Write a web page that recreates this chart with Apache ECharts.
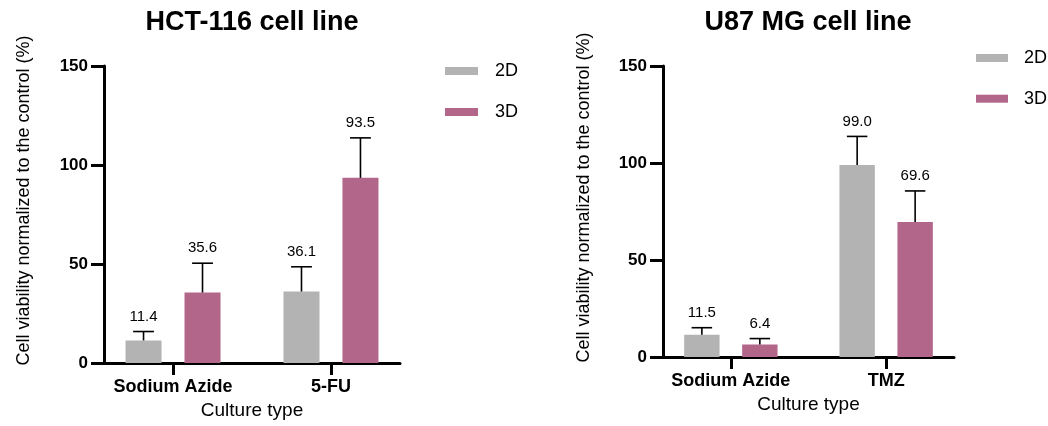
<!DOCTYPE html>
<html>
<head>
<meta charset="utf-8">
<script src="https://cdn.jsdelivr.net/npm/echarts@6/dist/echarts.min.js"></script>
<style>
html,body{margin:0;padding:0;background:#fff;}
#chart{width:1048px;height:426px;}
</style>
</head>
<body>
<div id="chart"></div>
<script>
// ---- data ----
const hctCategories = ['Sodium Azide', '5-FU'];
const u87Categories = ['Sodium Azide', 'TMZ'];
const yTickValues = [0, 50, 100, 150];
const hct2D = [11.4, 36.1];
const hct3D = [35.6, 93.5];
const hct2DErr = [4.5, 12.5];
const hct3DErr = [14.8, 20.2];
const u87_2D = [11.5, 99.0];
const u87_3D = [6.4, 69.6];
const u87_2DErr = [3.6, 14.7];
const u87_3DErr = [3.1, 16.0];

// ---- style ----
const FONT = "'Liberation Sans', Arial, Helvetica, sans-serif";
const GRAY = '#B3B3B3';
const PINK = '#B2668A';
const OFFSET = 0.1867;   // bar centre offset from category, in axis units
const HALF_W = 0.114;    // half bar width, axis units
const CAP_HALF = 0.066;  // half cap width, axis units

function barRender(off, color) {
  return function (params, api) {
    const x = api.value(0) + off;
    const v = api.value(1);
    const p0 = api.coord([x - HALF_W, v]);
    const p1 = api.coord([x + HALF_W, 0]);
    return {
      type: 'rect',
      shape: { x: p0[0], y: p0[1], width: p1[0] - p0[0], height: p1[1] - p0[1] },
      style: { fill: color }
    };
  };
}
function errRender(off) {
  return function (params, api) {
    const x = api.value(0) + off;
    const v = api.value(1);
    const top = v + api.value(2);
    const pb = api.coord([x, v]);
    const pt = api.coord([x, top]);
    const cl = api.coord([x - CAP_HALF, top]);
    const cr = api.coord([x + CAP_HALF, top]);
    return {
      type: 'group',
      children: [
        { type: 'line', shape: { x1: pb[0], y1: pb[1], x2: pt[0], y2: pt[1] }, style: { stroke: '#000', lineWidth: 1.6 } },
        { type: 'line', shape: { x1: cl[0], y1: cl[1], x2: cr[0], y2: cr[1] }, style: { stroke: '#000', lineWidth: 1.6 } },
        { type: 'text', style: { text: v.toFixed(1), x: pt[0], y: pt[1] - 15, align: 'center', verticalAlign: 'middle', fontSize: 15, fontFamily: FONT, fill: '#000' } }
      ]
    };
  };
}
function pairs(vals) { return vals.map((v, i) => [i, v]); }
function triples(vals, errs) { return vals.map((v, i) => [i, v, errs[i]]); }

function xAxisCfg(gridIndex, cats) {
  return {
    type: 'value', gridIndex: gridIndex, min: -0.437, max: 1.437,
    splitLine: { show: false },
    axisLine: { show: true, lineStyle: { color: '#000', width: 3 } },
    axisTick: { show: true, customValues: [0, 1], length: 12, lineStyle: { color: '#000', width: 3 } },
    axisLabel: { customValues: [0, 1], formatter: v => cats[Math.round(v)], fontSize: 18, fontWeight: 'bold', fontFamily: FONT, color: '#000', margin: 15 },
    name: 'Culture type', nameLocation: 'middle', nameGap: 35,
    nameTextStyle: { fontSize: 19, fontFamily: FONT, color: '#000' }
  };
}
function yAxisCfg(gridIndex, gap) {
  return {
    type: 'value', gridIndex: gridIndex, min: 0, max: 150, interval: 50,
    splitLine: { show: false },
    axisLine: { show: true, onZero: false, lineStyle: { color: '#000', width: 3 } },
    axisTick: { show: true, length: 13, lineStyle: { color: '#000', width: 3 } },
    axisLabel: { fontSize: 17, fontWeight: 'bold', fontFamily: FONT, color: '#000', margin: 16,
      customValues: yTickValues },
    name: 'Cell viability normalized to the control (%)', nameLocation: 'middle', nameGap: gap,
    nameTextStyle: { fontSize: 18, fontFamily: FONT, color: '#000', padding: [0, 0, 0, 28] }
  };
}
function series(gi, v2, e2, v3, e3) {
  return [
    { name: '2D', type: 'custom', xAxisIndex: gi, yAxisIndex: gi, itemStyle: { color: GRAY }, renderItem: barRender(-OFFSET, GRAY), data: pairs(v2), z: 3 },
    { name: '3D', type: 'custom', xAxisIndex: gi, yAxisIndex: gi, itemStyle: { color: PINK }, renderItem: barRender(OFFSET, PINK), data: pairs(v3), z: 3 },
    { name: 'err2D', type: 'custom', xAxisIndex: gi, yAxisIndex: gi, renderItem: errRender(-OFFSET), data: triples(v2, e2), z: 4 },
    { name: 'err3D', type: 'custom', xAxisIndex: gi, yAxisIndex: gi, renderItem: errRender(OFFSET), data: triples(v3, e3), z: 4 }
  ];
}

const chart = echarts.init(document.getElementById('chart'));
chart.setOption({
  animation: false,
  backgroundColor: '#fff',
  title: [
    { text: 'HCT-116 cell line', left: 252, top: 9, textAlign: 'center', padding: 0, textStyle: { fontSize: 27, fontWeight: 'bold', fontFamily: FONT, color: '#000' } },
    { text: 'U87 MG cell line', left: 808, top: 9, textAlign: 'center', padding: 0, textStyle: { fontSize: 27, fontWeight: 'bold', fontFamily: FONT, color: '#000' } }
  ],
  legend: [
    { data: ['2D', '3D'], orient: 'vertical', left: 445, top: 62, padding: 0, itemWidth: 33, itemHeight: 8, itemGap: 23, icon: 'rect',
      textStyle: { fontSize: 18, fontFamily: FONT, color: '#000', padding: [0, 0, 0, 12] }, selectedMode: false },
    { data: ['2D', '3D'], orient: 'vertical', left: 976, top: 49, padding: 0, itemWidth: 32, itemHeight: 8, itemGap: 22.7, icon: 'rect',
      textStyle: { fontSize: 18, fontFamily: FONT, color: '#000', padding: [0, 0, 0, 11] }, selectedMode: false }
  ],
  grid: [
    { left: 104, top: 66, width: 296, height: 297 },
    { left: 663, top: 66, width: 291, height: 291 }
  ],
  xAxis: [xAxisCfg(0, hctCategories), xAxisCfg(1, u87Categories)],
  yAxis: [yAxisCfg(0, 71), yAxisCfg(1, 70)],
  series: [].concat(
    series(0, hct2D, hct2DErr, hct3D, hct3DErr),
    series(1, u87_2D, u87_2DErr, u87_3D, u87_3DErr)
  )
});
</script>
</body>
</html>
